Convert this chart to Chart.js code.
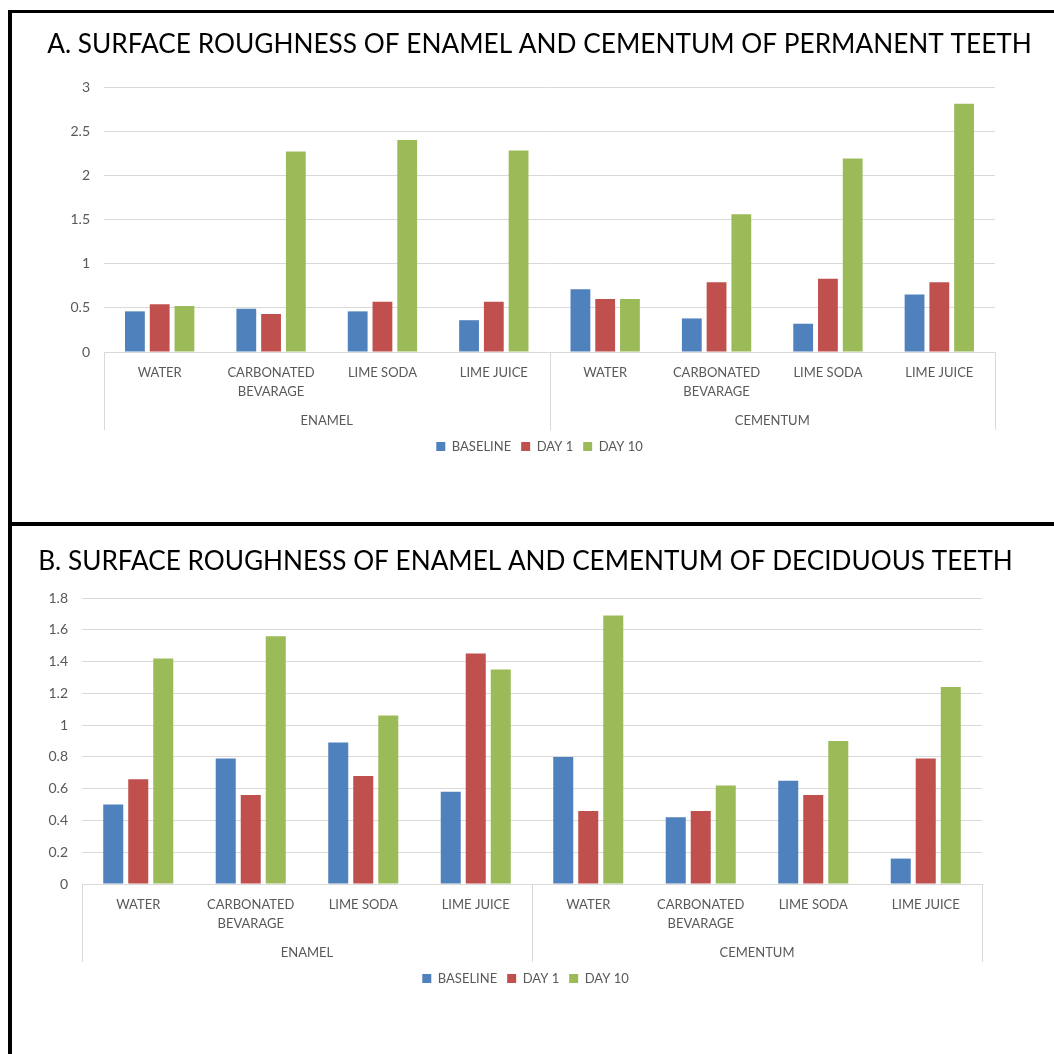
<!DOCTYPE html>
<html>
<head>
<meta charset="utf-8">
<script src="https://cdn.jsdelivr.net/npm/chart.js@4"></script>
<style>
  html, body { margin: 0; padding: 0; background: #fff; }
  body { width: 1054px; height: 1054px; overflow: hidden; position: relative; }
  .frame { position: absolute; left: 8px; top: 10px; width: 1200px; height: 1200px;
           border-left: 4px solid #000; border-top: 3px solid #000; }
  .split { position: absolute; left: 8px; top: 522px; width: 1200px; height: 4px; background: #000; }
  canvas { position: absolute; }
</style>
</head>
<body>
<div class="frame"></div>
<div class="split"></div>
<canvas id="chartA" width="1055" height="508" style="left:12px;top:14px"></canvas>
<canvas id="chartB" width="1027" height="527" style="left:12px;top:527px"></canvas>
<script>
// 데이터
const categories = [['WATER'], ['CARBONATED', 'BEVARAGE'], ['LIME SODA'], ['LIME JUICE']];
const tissues = ['ENAMEL', 'CEMENTUM'];
const seriesNames = ['BASELINE', 'DAY 1', 'DAY 10'];
const seriesColors = ['#4F81BD', '#C0504D', '#9BBB59'];

// A. permanent teeth (enamel x4, cementum x4)
const permBaseline = [0.46, 0.49, 0.46, 0.36, 0.71, 0.38, 0.32, 0.65];
const permDay1 = [0.54, 0.43, 0.57, 0.57, 0.60, 0.79, 0.83, 0.79];
const permDay10 = [0.52, 2.27, 2.40, 2.28, 0.60, 1.56, 2.19, 2.81];
const permTicks = { max: 3, step: 0.5 };

// B. deciduous teeth
const decBaseline = [0.50, 0.79, 0.89, 0.58, 0.80, 0.42, 0.65, 0.16];
const decDay1 = [0.66, 0.56, 0.68, 1.45, 0.46, 0.46, 0.56, 0.79];
const decDay10 = [1.42, 1.56, 1.06, 1.35, 1.69, 0.62, 0.90, 1.24];
const decTicks = { max: 1.8, step: 0.2 };

const FONT = 'Lato, "Open Sans", sans-serif';
const GRID = '#d9d9d9';
const TEXT = '#595959';

// 그룹 구분선 (ENAMEL | CEMENTUM)
const groupLines = {
  id: 'groupLines',
  afterDraw(chart) {
    const x = chart.scales.x, g = chart.scales.x2;
    const ctx = chart.ctx;
    const per = x.getLabels().length / g.getLabels().length;
    ctx.save();
    ctx.strokeStyle = GRID;
    ctx.lineWidth = 1;
    for (let k = 0; k <= g.getLabels().length; k++) {
      const px = Math.round(x.getPixelForValue(k * per - 0.5)) + 0.5;
      ctx.beginPath();
      ctx.moveTo(px, x.top);
      ctx.lineTo(px, g.bottom);
      ctx.stroke();
    }
    ctx.restore();
  }
};

function titleSize(text, width) {
  const c = document.createElement('canvas').getContext('2d');
  c.font = '28px ' + FONT;
  return 28 * width / c.measureText(text).width;
}

function makeChart(id, title, values, ticks, box) {
  const labels = [];
  tissues.forEach(() => categories.forEach(c => labels.push(c)));
  const size = titleSize(title, box.titleWidth);
  const lh = size * 1.2;
  return new Chart(document.getElementById(id), {
    type: 'bar',
    data: {
      labels: labels,
      datasets: seriesNames.map((name, i) => ({
        label: name,
        data: values[i],
        backgroundColor: seriesColors[i],
        categoryPercentage: 0.667,
        barPercentage: 0.8
      }))
    },
    options: {
      responsive: false,
      animation: false,
      layout: { padding: { left: 0, right: 0, top: 0, bottom: box.padBottom } },
      plugins: {
        tooltip: { enabled: false },
        title: {
          display: true,
          text: title,
          color: '#000',
          font: { family: FONT, size: size, weight: 'normal', lineHeight: 1.2 },
          padding: { top: box.titleY - lh / 2, bottom: box.top - box.titleY - lh / 2 }
        },
        legend: {
          position: 'bottom',
          labels: {
            boxWidth: 9, boxHeight: 9, padding: 10, color: TEXT,
            font: { family: FONT, size: 13 }
          }
        }
      },
      scales: {
        x: {
          grid: { display: false, drawTicks: false },
          border: { display: true, color: GRID },
          ticks: { color: TEXT, padding: 11, autoSkip: false, maxRotation: 0,
                   font: { family: FONT, size: 13, lineHeight: 19 / 13 } },
          afterFit: s => { s.height = 56; }
        },
        x2: {
          type: 'category',
          position: 'bottom',
          labels: tissues,
          offset: true,
          grid: { display: false, drawTicks: false },
          border: { display: false },
          ticks: { color: TEXT, padding: 3, font: { family: FONT, size: 13, lineHeight: 19 / 13 } },
          afterFit: s => { s.height = 22; }
        },
        y: {
          min: 0, max: ticks.max,
          grid: { color: GRID, drawTicks: false },
          border: { display: false },
          ticks: { stepSize: ticks.step, color: TEXT, padding: 14,
                   font: { family: FONT, size: 14 },
                   callback: v => String(+v.toFixed(1)) },
          afterFit: s => { s.width = box.left; }
        },
        // 오른쪽 여백용 빈 축
        y2: {
          position: 'right',
          min: 0, max: ticks.max,
          grid: { display: false, drawTicks: false },
          border: { display: false },
          ticks: { display: false },
          afterFit: s => { s.width = box.padRight; }
        }
      }
    },
    plugins: [groupLines]
  });
}

makeChart('chartA', 'A. SURFACE ROUGHNESS OF ENAMEL AND CEMENTUM OF PERMANENT TEETH',
  [permBaseline, permDay1, permDay10], permTicks,
  { titleWidth: 985, titleY: 31, top: 73, left: 92, padRight: 72, padBottom: 59 });

makeChart('chartB', 'B. SURFACE ROUGHNESS OF ENAMEL AND CEMENTUM OF DECIDUOUS TEETH',
  [decBaseline, decDay1, decDay10], decTicks,
  { titleWidth: 975, titleY: 35, top: 71, left: 70, padRight: 57, padBottom: 59 });
</script>
</body>
</html>
